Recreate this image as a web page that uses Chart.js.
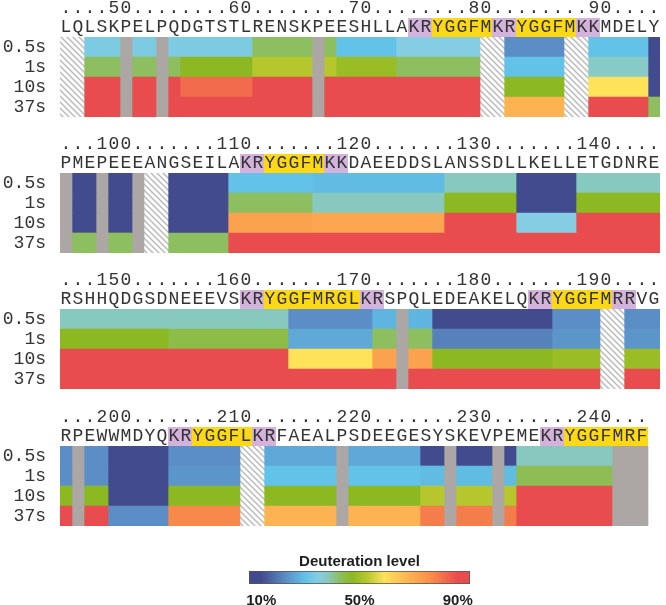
<!DOCTYPE html>
<html>
<head>
<meta charset="utf-8">
<title>Deuteration map</title>
<script src="https://cdn.jsdelivr.net/npm/chart.js@4.4.0/dist/chart.umd.min.js"></script>
<style>
  body { margin:0; width:666px; height:605px; overflow:hidden; background:#fff; position:relative; }
  canvas { position:absolute; left:0; }
</style>
</head>
<body>
<canvas id="p1" width="666" height="120" style="top:0px"></canvas>
<canvas id="p2" width="666" height="120" style="top:136px"></canvas>
<canvas id="p3" width="666" height="120" style="top:272px"></canvas>
<canvas id="p4" width="666" height="120" style="top:409px"></canvas>
<canvas id="cbar" width="320" height="70" style="top:540px;left:193px"></canvas>
<script>
var times = ['0.5s', '1s', '10s', '37s'];
var H = 'hatch', G = 'gap';   // no coverage (hatched) / not resolved (gray)

// each segment: first residue, last residue, deuteration % at 0.5s, 1s, 10s, 37s
var start1 = 45;
var seq1 = 'LQLSKPELPQDGTSTLRENSKPEESHLLAKRYGGFMKRYGGFMKKMDELY';
var seg1 = [
  [45, 46, H, H, H, H],
  [47, 49, 32, 42, 90, 90],
  [50, 50, G, G, G, G],
  [51, 52, 32, 42, 90, 90],
  [53, 53, G, G, G, G],
  [54, 54, 32, 42, 90, 90],
  [55, 60, 32, 47, 85, 90],
  [61, 65, 42, 53, 90, 90],
  [66, 66, G, G, G, G],
  [67, 67, 42, 53, 90, 90],
  [68, 72, 28, 49, 90, 90],
  [73, 79, 33, 42, 90, 90],
  [80, 81, H, H, H, H],
  [82, 86, 20, 28, 47, 70],
  [87, 88, H, H, H, H],
  [89, 93, 28, 36, 60, 90],
  [94, 94, 10, 10, 10, 42]
];
var marks1 = [[74, 75, 'K'], [76, 80, 'Y'], [81, 82, 'K'], [83, 87, 'Y'], [88, 89, 'K']];

var start2 = 95;
var seq2 = 'PMEPEEEANGSEILAKRYGGFMKKDAEEDDSLANSSDLLKELLETGDNRE';
var seg2 = [
  [95, 95, G, G, G, G],
  [96, 97, 10, 10, 10, 42],
  [98, 98, G, G, G, G],
  [99, 100, 10, 10, 10, 42],
  [101, 101, G, G, G, G],
  [102, 103, H, H, H, H],
  [104, 108, 10, 10, 10, 42],
  [109, 115, 28, 42, 74, 90],
  [116, 126, 27, 37, 73, 90],
  [127, 132, 37, 47, 90, 90],
  [133, 137, 10, 10, 33, 90],
  [138, 144, 37, 47, 90, 90]
];
var marks2 = [[110, 111, 'K'], [112, 116, 'Y'], [117, 118, 'K']];

var start3 = 145;
var seq3 = 'RSHHQDGSDNEEEVSKRYGGFMRGLKRSPQLEDEAKELQKRYGGFMRRVG';
var seg3 = [
  [145, 153, 37, 47, 90, 90],
  [154, 163, 37, 44, 90, 90],
  [164, 170, 20, 24, 60, 90],
  [171, 172, 26, 42, 74, 90],
  [173, 173, G, G, G, G],
  [174, 175, 26, 42, 74, 90],
  [176, 185, 10, 18, 47, 90],
  [186, 189, 20, 21, 49, 90],
  [190, 191, H, H, H, H],
  [192, 194, 20, 21, 49, 90]
];
var marks3 = [[160, 161, 'K'], [162, 169, 'Y'], [170, 171, 'K'], [184, 185, 'K'], [186, 190, 'Y'], [191, 192, 'K']];

var start4 = 195;
var seq4 = 'RPEWWMDYQKRYGGFLKRFAEALPSDEEGESYSKEVPEMEKRYGGFMRF';
var seg4 = [
  [195, 195, 20, 20, 47, 90],
  [196, 196, G, G, G, G],
  [197, 198, 20, 20, 47, 90],
  [199, 203, 10, 10, 10, 20],
  [204, 209, 20, 21, 47, 80],
  [210, 211, H, H, H, H],
  [212, 217, 24, 28, 47, 70],
  [218, 218, G, G, G, G],
  [219, 224, 24, 28, 47, 70],
  [225, 226, 10, 27, 53, 82],
  [227, 227, G, G, G, G],
  [228, 230, 10, 27, 53, 82],
  [231, 231, G, G, G, G],
  [232, 232, 10, 27, 53, 82],
  [233, 240, 37, 43, 90, 90],
  [241, 243, G, G, G, G]
];
var marks4 = [[204, 205, 'K'], [206, 210, 'Y'], [211, 212, 'K'], [235, 236, 'K'], [237, 243, 'Y']];

var cbarTicks = [10, 50, 90];
var cbarRange = [5, 95];

// colour scale (deuteration %)
var stops = [
  [10, '#424b8e'], [20, '#5b8ec6'], [28, '#62c2e8'], [33, '#84cde2'], [37, '#88c9bf'],
  [42, '#8dbe60'], [47, '#8cb822'], [53, '#b5c72c'], [60, '#fde25a'], [70, '#fdb352'],
  [80, '#f8894a'], [90, '#e94c4e']
];

function hex(h) { return [parseInt(h.substr(1, 2), 16), parseInt(h.substr(3, 2), 16), parseInt(h.substr(5, 2), 16)]; }

function colormap(v) {
  if (v <= stops[0][0]) return stops[0][1];
  for (var i = 1; i < stops.length; i++) {
    if (v <= stops[i][0]) {
      var a = hex(stops[i - 1][1]), b = hex(stops[i][1]);
      var t = (v - stops[i - 1][0]) / (stops[i][0] - stops[i - 1][0]);
      return 'rgb(' + a.map(function (c, k) { return Math.round(c + (b[k] - c) * t); }).join(',') + ')';
    }
  }
  return stops[stops.length - 1][1];
}

// hatch for uncovered residues
var pc = document.createElement('canvas');
pc.width = 6; pc.height = 6;
var px = pc.getContext('2d');
px.fillStyle = '#fff'; px.fillRect(0, 0, 6, 6);
px.strokeStyle = '#b9b9b9'; px.lineWidth = 1.4;
px.beginPath();
px.moveTo(-1, -1); px.lineTo(7, 7);
px.moveTo(-4, 2); px.lineTo(4, 10);
px.moveTo(2, -4); px.lineTo(10, 4);
px.stroke();
var hatch = document.getElementById('p1').getContext('2d').createPattern(pc, 'repeat');

function cellColor(v) {
  if (v === H) return hatch;
  if (v === G) return '#aca7a4';
  return colormap(v);
}

function numLabel(r) {
  var n = Math.ceil(r / 10) * 10;
  var s = String(n), k = n - r;
  return k < s.length ? s[s.length - 1 - k] : '.';
}

var boxPlugin = {
  id: 'boxes',
  beforeDraw: function (chart, args, opts) {
    var sc = chart.scales.seq, c = chart.ctx;
    opts.marks.forEach(function (m) {
      var x0 = sc.getPixelForValue(m[0] - 0.5), x1 = sc.getPixelForValue(m[1] + 0.5);
      c.fillStyle = m[2] === 'K' ? '#d3b2db' : '#fcd914';
      c.fillRect(x0, sc.top + 1, x1 - x0, sc.bottom - sc.top - 1);
    });
  }
};

var mono = { family: 'Liberation Mono', size: 18, lineHeight: 1 };
var noGrid = { display: false, drawTicks: false };

function panel(id, start, seq, segs, marks) {
  var res = [];
  for (var i = 0; i < seq.length; i++) res.push(start + i);
  var sets = segs.map(function (s) {
    return {
      data: times.map(function () { return [s[0] - 0.5, s[1] + 0.5]; }),
      backgroundColor: s.slice(2).map(cellColor),
      xAxisID: 'seq',
      grouped: false,
      barPercentage: 1,
      categoryPercentage: 1,
      borderWidth: 0
    };
  });
  new Chart(document.getElementById(id), {
    type: 'bar',
    data: { labels: times, datasets: sets },
    options: {
      indexAxis: 'y',
      responsive: false,
      animation: false,
      events: [],
      layout: { padding: { right: 6, bottom: 3 } },
      plugins: { legend: { display: false }, tooltip: { enabled: false }, boxes: { marks: marks } },
      scales: {
        seq: {
          type: 'linear', axis: 'x', position: 'top', weight: 1,
          min: start - 0.5, max: start + 49.5,
          grid: noGrid, border: { display: false },
          afterBuildTicks: function (s) { s.ticks = res.map(function (v) { return { value: v }; }); },
          afterFit: function (s) { s.height = 20; },
          ticks: {
            autoSkip: false, maxRotation: 0, minRotation: 0, padding: 1,
            font: mono, color: '#333',
            callback: function (v) { return seq[v - start]; }
          }
        },
        num: {
          type: 'linear', axis: 'x', position: 'top', weight: 2,
          min: start - 0.5, max: start + 49.5,
          grid: noGrid, border: { display: false },
          afterBuildTicks: function (s) { s.ticks = res.map(function (v) { return { value: v }; }); },
          afterFit: function (s) { s.height = 17; },
          ticks: {
            autoSkip: false, maxRotation: 0, minRotation: 0, padding: 0,
            font: mono, color: '#333',
            callback: function (v) { return numLabel(v); }
          }
        },
        y: {
          type: 'category',
          grid: noGrid, border: { display: false },
          afterFit: function (s) { s.width = 60; s.paddingTop = 0; s.paddingBottom = 0; },
          ticks: { autoSkip: false, font: mono, color: '#333', padding: 14 }
        }
      }
    },
    plugins: [boxPlugin]
  });
}

panel('p1', start1, seq1, seg1, marks1);
panel('p2', start2, seq2, seg2, marks2);
panel('p3', start3, seq3, seg3, marks3);
panel('p4', start4, seq4, seg4, marks4);

// colour bar legend
var bold = { family: 'Liberation Sans', size: 15, weight: 'bold', lineHeight: 1.2 };
new Chart(document.getElementById('cbar'), {
  type: 'bar',
  data: {
    labels: [''],
    datasets: [{
      data: [cbarRange],
      backgroundColor: function (ctx) {
        var ch = ctx.chart, sc = ch.scales.x;
        if (!sc || !ch.chartArea) return '#888';
        var x0 = sc.getPixelForValue(cbarRange[0]), x1 = sc.getPixelForValue(cbarRange[1]);
        if (!isFinite(x0) || !isFinite(x1)) return '#888';
        var g = ch.ctx.createLinearGradient(x0, 0, x1, 0);
        stops.forEach(function (s) { g.addColorStop((s[0] - cbarRange[0]) / (cbarRange[1] - cbarRange[0]), s[1]); });
        return g;
      },
      borderColor: '#555',
      borderWidth: 1,
      borderSkipped: false,
      barPercentage: 1,
      categoryPercentage: 1
    }]
  },
  options: {
    indexAxis: 'y',
    responsive: false,
    animation: false,
    events: [],
    layout: { padding: { left: 56, right: 43 } },
    plugins: {
      legend: { display: false },
      tooltip: { enabled: false },
      title: { display: true, text: 'Deuteration level', font: bold, color: '#1e1e1e', padding: { top: 13, bottom: 0 } }
    },
    scales: {
      x: {
        type: 'linear', min: cbarRange[0], max: cbarRange[1],
        grid: noGrid, border: { display: false },
        afterBuildTicks: function (s) { s.ticks = cbarTicks.map(function (v) { return { value: v }; }); },
        afterFit: function (s) { s.height = 26; s.paddingLeft = 0; s.paddingRight = 0; },
        ticks: { font: bold, color: '#1e1e1e', padding: 8, maxRotation: 0, callback: function (v) { return v + '%'; } }
      },
      y: {
        display: false,
        afterFit: function (s) { s.width = 0; s.paddingTop = 0; s.paddingBottom = 0; }
      }
    }
  }
});
</script>
</body>
</html>
